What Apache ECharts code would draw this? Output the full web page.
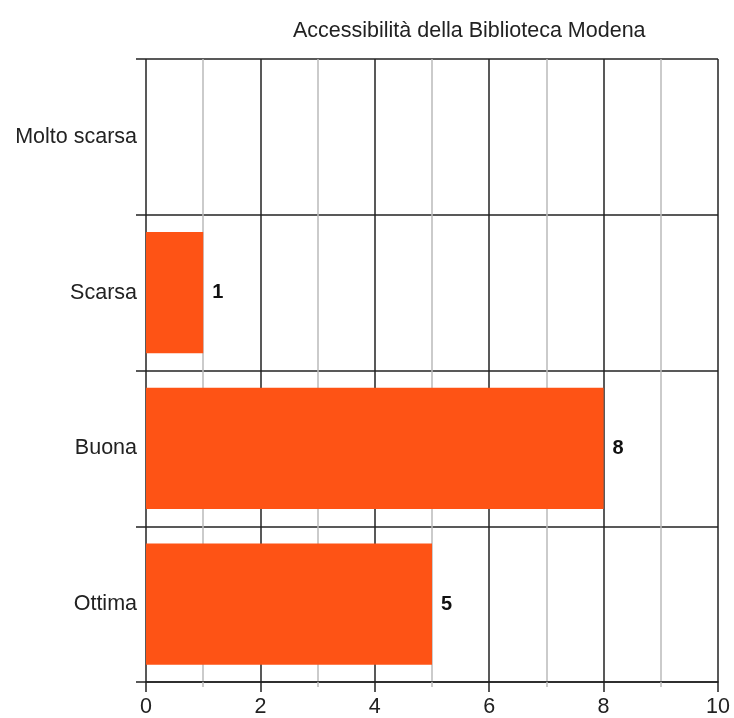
<!DOCTYPE html>
<html><head><meta charset="utf-8">
<script src="https://cdn.jsdelivr.net/npm/echarts@6/dist/echarts.min.js"></script>
<style>html,body{margin:0;padding:0;background:#fff}#c{width:734px;height:718px}</style>
</head><body><div id="c"></div>
<script>
const titleText = 'Accessibilità della Biblioteca Modena';
const categories = ['Molto scarsa', 'Scarsa', 'Buona', 'Ottima'];
const values = [0, 1, 8, 5];
const xTicks = [0, 2, 4, 6, 8, 10];

const FONT = 'Liberation Sans, Arial, sans-serif';
const chart = echarts.init(document.getElementById('c'));
chart.setOption({
  animation: false,
  backgroundColor: '#fff',
  textStyle: { fontFamily: FONT },
  title: {
    text: titleText, left: 288, top: 15,
    textStyle: { fontFamily: FONT, fontSize: 21.5, fontWeight: 'normal', color: '#222' }
  },
  grid: { left: 146, right: 16, top: 59, bottom: 36 },
  xAxis: {
    type: 'value', min: xTicks[0], max: xTicks[xTicks.length - 1], interval: 2,
    axisLine: { show: true, lineStyle: { color: '#222', width: 1.5 } },
    axisTick: { show: true, length: 10, lineStyle: { color: '#222', width: 1.5 } },
    minorTick: { show: true, splitNumber: 2, length: 5, lineStyle: { color: '#bbb', width: 1.5 } },
    splitLine: { show: true, lineStyle: { color: '#222', width: 1.5 } },
    minorSplitLine: { show: true, lineStyle: { color: '#bbb', width: 1.5 } },
    axisLabel: { fontSize: 21.5, color: '#222', margin: 14, fontFamily: FONT }
  },
  yAxis: {
    type: 'category', data: categories, inverse: true,
    axisLine: { show: false },
    axisTick: { show: true, length: 10, lineStyle: { color: '#222', width: 1.5 } },
    splitLine: { show: true, lineStyle: { color: '#222', width: 1.5 } },
    axisLabel: { fontSize: 21.5, color: '#222', margin: 9, fontFamily: FONT }
  },
  series: [{
    type: 'bar', data: values, barCategoryGap: '22%',
    itemStyle: { color: '#FE5315' },
    label: {
      show: true, position: 'right', distance: 9,
      fontSize: 20, fontWeight: 'bold', color: '#111',
      fontFamily: FONT,
      formatter: p => p.value > 0 ? p.value : ''
    }
  }]
});
</script></body></html>
